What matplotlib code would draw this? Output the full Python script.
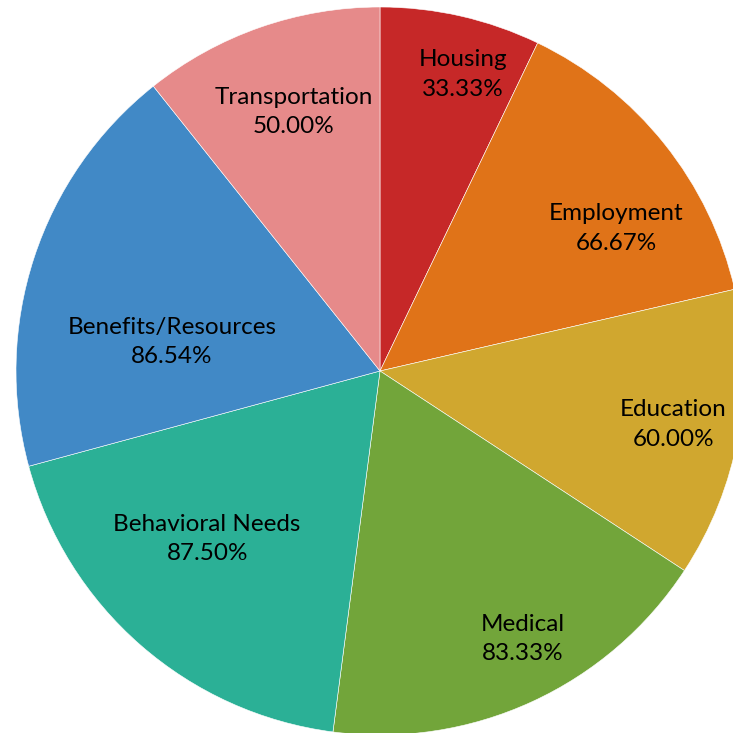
import numpy as np
import matplotlib.pyplot as plt

categories = ["Housing", "Employment", "Education", "Medical",
              "Behavioral Needs", "Benefits/Resources", "Transportation"]
values = [33.33, 66.67, 60.00, 83.33, 87.50, 86.54, 50.00]
colors = ["#C62828", "#E07318", "#D0A72F", "#72A53A",
          "#2BB096", "#4189C6", "#E68A8A"]

# label placement tweaks (radius fraction, angle offset in degrees)
label_r = [0.846, 0.758, 0.819, 0.835, 0.662, 0.577, 0.75]
label_da = [2.8, 7.6, 0.2, -3.4, 4.7, -10.2, 0.9]

fig = plt.figure(figsize=(7.33, 7.33), dpi=100)
ax = fig.add_axes([0, 0, 1, 1])

wedges, _ = ax.pie(values, colors=colors, startangle=90, counterclock=False,
                   radius=1, wedgeprops=dict(edgecolor="white", linewidth=0.4))

for w, cat, v, r, da in zip(wedges, categories, values, label_r, label_da):
    mid = np.deg2rad((w.theta1 + w.theta2) / 2 - da)
    ax.text(r * np.cos(mid), r * np.sin(mid), f"{cat}\n{v:.2f}%",
            ha="center", va="center", fontsize=17.5, family="Lato",
            linespacing=1.5, color="black")

ax.set_xlim(-380 / 364, 353 / 364)
ax.set_ylim(-362 / 364, 371 / 364)
ax.set_aspect("equal")
ax.axis("off")

fig.savefig("out.png", dpi=100)
